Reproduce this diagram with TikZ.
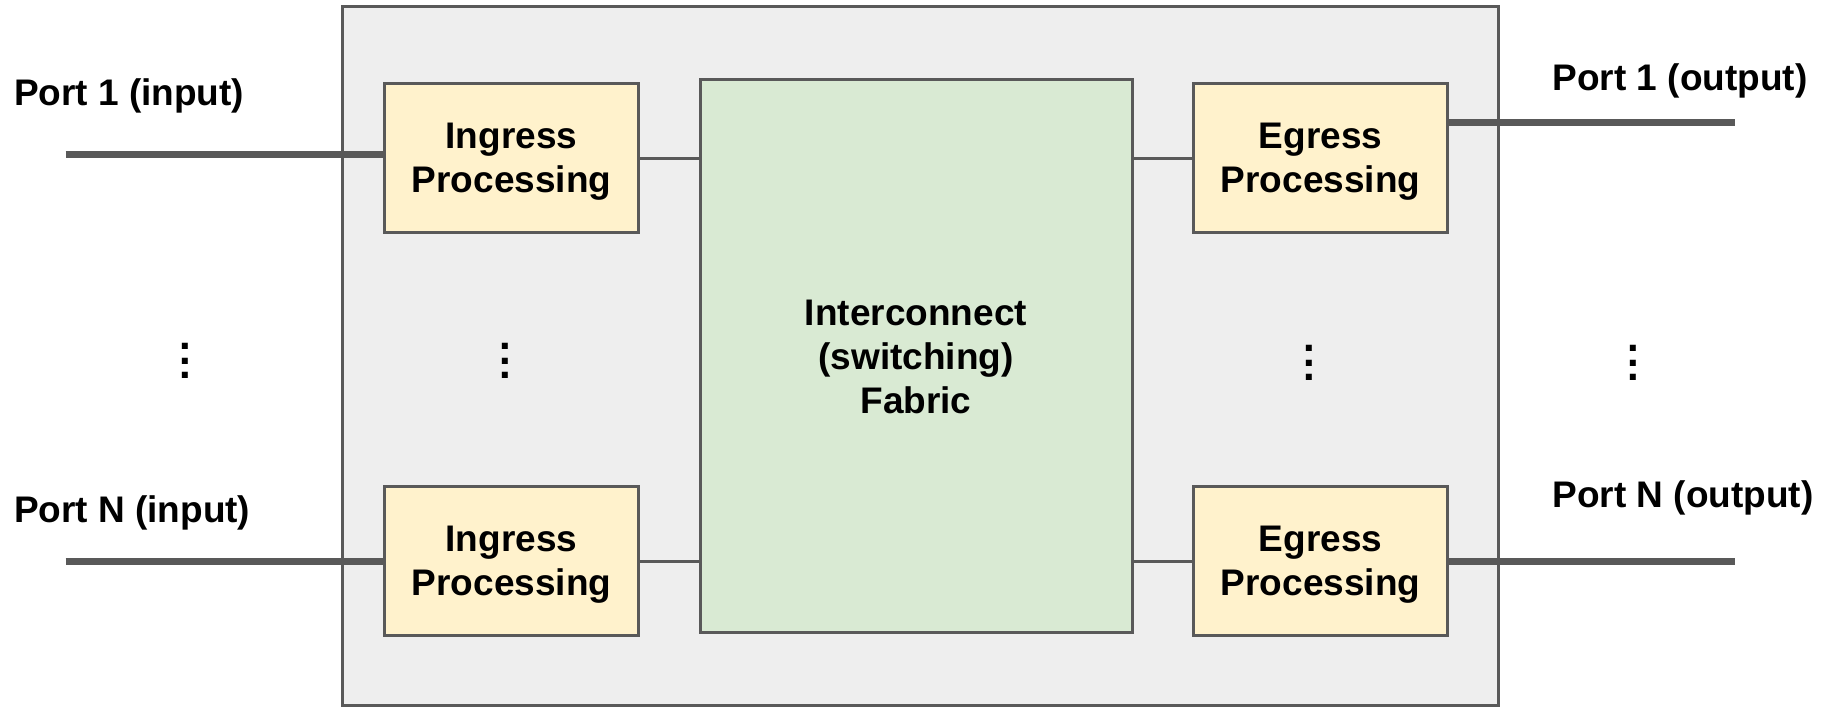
\documentclass[tikz,border=0pt]{standalone}
\usepackage{fontspec}
\setmainfont{Liberation Sans}
\definecolor{edge}{HTML}{595959}
\definecolor{chassisfill}{HTML}{EEEEEE}
\definecolor{procfill}{HTML}{FFF2CC}
\definecolor{fabricfill}{HTML}{D9EAD3}
\pgfdeclarelayer{enclosure}
\pgfdeclarelayer{wires}
\pgfsetlayers{enclosure,wires,main}
\tikzset{
  txt/.style={font=\fontsize{37}{44}\selectfont\bfseries},
  chassis/.style={draw=edge, line width=3pt, fill=chassisfill,
    minimum width=1156pt, minimum height=699pt},
  procbox/.style={txt, draw=edge, line width=3pt, fill=procfill,
    minimum width=254pt, minimum height=149pt, align=center, text depth=-4pt},
  fabricbox/.style={txt, draw=edge, line width=3pt, fill=fabricfill,
    minimum width=432pt, minimum height=553pt, align=center, text depth=-4pt},
  portlabel/.style={txt, anchor=base west},
  portline/.style={draw=edge, line width=7pt},
  link/.style={draw=edge, line width=3pt},
  vdots/.style={font=\fontsize{42}{14.7}\selectfont\bfseries, align=center},
}
\begin{document}
\begin{tikzpicture}[x=1pt, y=-1pt, every node/.style={inner sep=0pt, outer sep=0pt}]
  \useasboundingbox (0,0) rectangle (1829,709);

  % processing stages and the switching fabric
  \node[procbox] (ing1) at (511.5,158)  {Ingress\\Processing};
  \node[procbox] (ingN) at (511.5,561)  {Ingress\\Processing};
  \node[procbox] (egr1) at (1320.5,158) {Egress\\Processing};
  \node[procbox] (egrN) at (1320.5,561) {Egress\\Processing};
  \node[fabricbox] (fab) at (916,356.3) {Interconnect\\(switching)\\Fabric};

  % switch enclosure behind everything
  \begin{pgfonlayer}{enclosure}
    \node[chassis] (sw) at (920.3,356) {};
  \end{pgfonlayer}

  % free ends of the port lines
  \coordinate (in1)  at (65.5,154);
  \coordinate (inN)  at (65.5,561);
  \coordinate (out1) at (1735,122);
  \coordinate (outN) at (1735,561);

  \begin{pgfonlayer}{wires}
    % port lines
    \draw[portline] (in1) -- (ing1.center |- in1);
    \draw[portline] (inN) -- (ingN.center |- inN);
    \draw[portline] (egr1.center |- out1) -- (out1);
    \draw[portline] (egrN.center |- outN) -- (outN);
    % links to the fabric
    \draw[link] (ing1.center) -- (ing1.center -| fab.center);
    \draw[link] (ingN.center) -- (ingN.center -| fab.center);
    \draw[link] (fab.center |- egr1.center) -- (egr1.center);
    \draw[link] (fab.center |- egrN.center) -- (egrN.center);
  \end{pgfonlayer}

  % port labels
  \node[portlabel] (lin1)  at (14,105)     {Port 1 (input)};
  \node[portlabel] (linN)  at (14,522)     {Port N (input)};
  \node[portlabel] (lout1) at (1552.6,90)  {Port 1 (output)};
  \node[portlabel] (loutN) at (1552.6,507) {Port N (output)};

  % vertical ellipses
  \node[vdots] (d1) at (185.3,361) {.\\.\\.};
  \node[vdots] (d2) at (505.5,361) {.\\.\\.};
  \node[vdots] (d3) at (1309.5,363) {.\\.\\.};
  \node[vdots] (d4) at (1633.3,363) {.\\.\\.};
\end{tikzpicture}
\end{document}
